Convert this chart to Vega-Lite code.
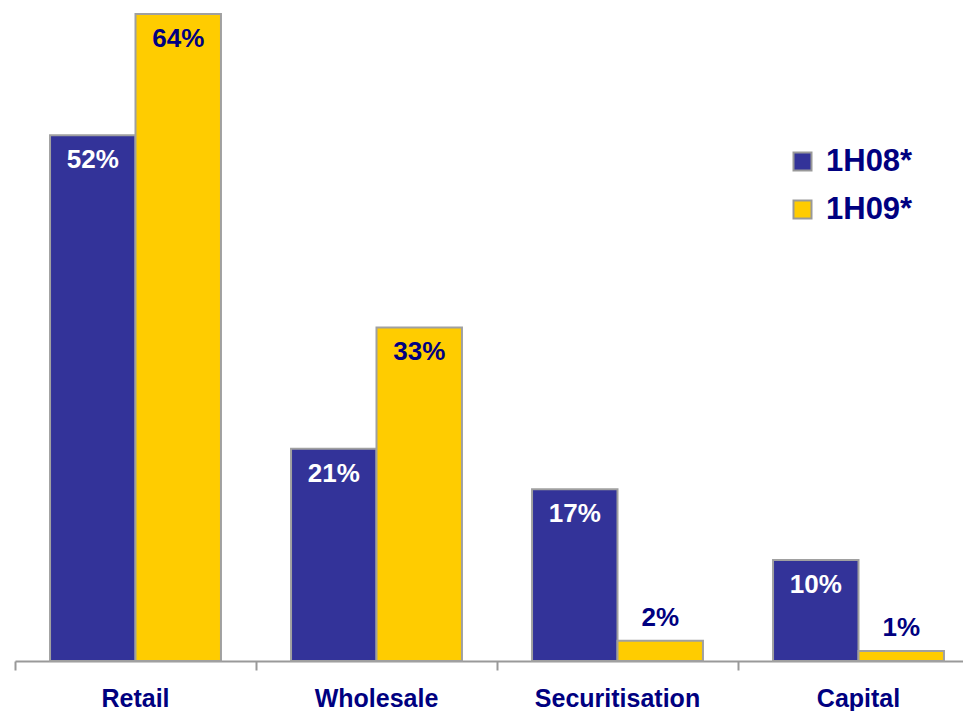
{
  "$schema": "https://vega.github.io/schema/vega-lite/v6.json",
  "autosize": "none",
  "width": 964,
  "height": 647,
  "padding": {"left": 15, "top": 14, "right": 0, "bottom": 50},
  "background": "white",
  "config": {"view": {"stroke": null}},
  "data": {"values": [
    {"category": "Retail", "series": "1H08*", "value": 52},
    {"category": "Retail", "series": "1H09*", "value": 64},
    {"category": "Wholesale", "series": "1H08*", "value": 21},
    {"category": "Wholesale", "series": "1H09*", "value": 33},
    {"category": "Securitisation", "series": "1H08*", "value": 17},
    {"category": "Securitisation", "series": "1H09*", "value": 2},
    {"category": "Capital", "series": "1H08*", "value": 10},
    {"category": "Capital", "series": "1H09*", "value": 1}
  ]},
  "transform": [{"calculate": "datum.value + '%'", "as": "label"}],
  "encoding": {
    "x": {"field": "category", "type": "nominal", "sort": ["Retail", "Wholesale", "Securitisation", "Capital"],
      "scale": {"paddingInner": 0, "paddingOuter": 0},
      "axis": {"title": null, "labelAngle": 0, "domainColor": "#999999", "domainWidth": 2, "tickColor": "#999999", "tickWidth": 2, "tickSize": 9, "bandPosition": 0,
        "labelFont": "Liberation Sans", "labelFontWeight": "bold", "labelFontSize": 25, "labelColor": "#000080", "labelPadding": 16}},
    "xOffset": {"field": "series", "type": "nominal", "scale": {"paddingInner": 0, "paddingOuter": 0.41}},
    "y": {"field": "value", "type": "quantitative", "scale": {"domain": [0, 64]}, "axis": null}
  },
  "layer": [
    {
      "mark": {"type": "bar", "stroke": "#A0A0A0", "strokeWidth": 2},
      "encoding": {
        "color": {"field": "series", "type": "nominal", "scale": {"domain": ["1H08*", "1H09*"], "range": ["#333399", "#FFCC00"]},
          "legend": {"title": null, "orient": "none", "legendX": 772, "legendY": 132, "symbolType": "square", "symbolSize": 324, "symbolStrokeColor": "#999999", "symbolStrokeWidth": 2,
            "labelFont": "Liberation Sans", "labelFontWeight": "bold", "labelFontSize": 31, "labelColor": "#000080", "rowPadding": 16, "labelOffset": 8}}
      }
    },
    {
      "transform": [{"filter": "datum.value >= 5"}],
      "mark": {"type": "text", "baseline": "middle", "dy": 25, "font": "Liberation Sans", "fontWeight": "bold", "fontSize": 26},
      "encoding": {
        "text": {"field": "label", "type": "nominal"},
        "color": {"condition": {"test": "datum.series === '1H08*'", "value": "white"}, "value": "#000080"}
      }
    },
    {
      "transform": [{"filter": "datum.value < 5"}],
      "mark": {"type": "text", "baseline": "middle", "dy": -23, "font": "Liberation Sans", "fontWeight": "bold", "fontSize": 26, "color": "#000080"},
      "encoding": {
        "text": {"field": "label", "type": "nominal"}
      }
    }
  ]
}
